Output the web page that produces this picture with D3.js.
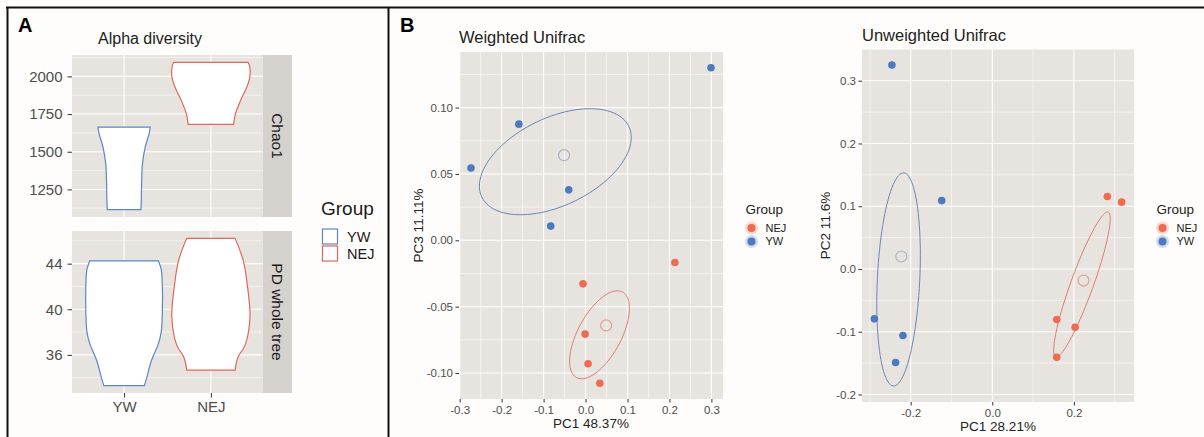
<!DOCTYPE html>
<html>
<head>
<meta charset="utf-8">
<style>
    body { margin: 0; background: #fefdfb; }
    svg { display: block; font-family: "Liberation Sans", Arial, sans-serif; }
    .axis .domain { display: none; }
    .axis line { stroke: #333; }
    .axis text { fill: #4d4d4d; }
    .grid-major { stroke: #fff; stroke-width: 1.1; }
    .grid-minor { stroke: #fff; stroke-width: 0.55; }
</style>
</head>
<body>
<svg id="fig" width="1204" height="437"></svg>
<script src="https://cdn.jsdelivr.net/npm/d3@7/dist/d3.min.js"></script>
<script>
// ---------- data ----------
var groups = ["YW", "NEJ"];

// violin outlines: [value, relative half width]
var chaoYW  = [[1116,0.43],[1178,0.44],[1310,0.45],[1421,0.47],[1531,0.54],[1620,0.64],[1664,0.67]];
var chaoNEJ = [[1682,0.58],[1753,0.63],[1841,0.76],[1929,0.92],[2000,1.0],[2070,0.99],[2093,0.95]];
var pdYW    = [[33.3,0.52],[34.0,0.58],[35.5,0.70],[36.9,0.87],[38.0,0.95],[40.0,0.98],[42.0,0.98],[43.5,0.95],[44.24,0.88]];
var pdNEJ   = [[34.66,0.62],[35.77,0.69],[36.9,0.88],[39.3,1.0],[41.9,0.94],[44.24,0.83],[46.22,0.62]];
var chaoTicks = [1250, 1500, 1750, 2000];
var pdTicks = [36, 40, 44];

// PCoA coordinates
var wYWx  = [0.299, -0.159, -0.273, -0.040, -0.083];
var wYWy  = [0.130, 0.0875, 0.0545, 0.038, 0.0107];
var wNEJx = [0.213, -0.006, -0.001, 0.006, 0.034];
var wNEJy = [-0.0167, -0.0328, -0.0707, -0.093, -0.1077];
var uYWx  = [-0.246, -0.124, -0.289, -0.219, -0.237];
var uYWy  = [0.325, 0.109, -0.0795, -0.106, -0.149];
var uNEJx = [0.282, 0.317, 0.158, 0.203, 0.158];
var uNEJy = [0.1156, 0.1065, -0.0806, -0.0929, -0.1408];

// ellipses: [centre x, centre y, var x, var y, cov xy]
var wEllYW  = [-0.072, 0.0592, 0.03276, 0.001596, 0.003312];
var wEllNEJ = [0.0333, -0.0712, 0.005078, 0.001098, 0.001416];
var uEllYW  = [-0.2297, -0.0166, 0.002849, 0.02884, 0.002034];
var uEllNEJ = [0.2197, -0.0247, 0.004805, 0.013374, 0.007268];

var wTicksX = [-0.3, -0.2, -0.1, 0, 0.1, 0.2, 0.3];
var wTicksY = [-0.10, -0.05, 0, 0.05, 0.10];
var uTicksX = [-0.2, 0, 0.2];
var uTicksY = [-0.2, -0.1, 0, 0.1, 0.2, 0.3];

var lineCol = {YW: "#5b86c6", NEJ: "#e2665b"};
var dotCol = {YW: "#4e79be", NEJ: "#ee6b4f"};
var ellCol = {YW: "#6a86b8", NEJ: "#e07b6d"};
var cenCol = {YW: "#a9b2c6", NEJ: "#dca197"};

var svg = d3.select("#fig");

function fixMinus(f) {
    return function(d) { return f(d).replace("\u2212", "-"); };
}

// expand extent by 5% like ggplot
function expand(ext) {
    var r = ext[1] - ext[0];
    return [ext[0] - r * 0.05, ext[1] + r * 0.05];
}

function minorOf(ticks, dom) {
    var step = ticks[1] - ticks[0], out = [];
    var first = ticks[0] - step / 2;
    for (var v = first; v <= dom[1] + 1e-9; v += step) {
        if (v >= dom[0]) out.push(v);
    }
    return out;
}

// ---------- frame ----------
svg.append("line").attr("x1", 6).attr("x2", 1204).attr("y1", 7.5).attr("y2", 7.5).attr("stroke", "#111").attr("stroke-width", 2);
svg.append("line").attr("x1", 7.5).attr("x2", 7.5).attr("y1", 7).attr("y2", 437).attr("stroke", "#111").attr("stroke-width", 2);
svg.append("line").attr("x1", 388.5).attr("x2", 388.5).attr("y1", 7).attr("y2", 437).attr("stroke", "#111").attr("stroke-width", 2);

svg.append("text").attr("x", 18).attr("y", 32).attr("font-size", 20).attr("font-weight", "bold").text("A");
svg.append("text").attr("x", 400).attr("y", 32).attr("font-size", 20).attr("font-weight", "bold").text("B");

// ---------- panel A : violins ----------
svg.append("text").attr("x", 98).attr("y", 44).attr("font-size", 16).attr("fill", "#222").text("Alpha diversity");

var xA = d3.scalePoint().domain(groups).range([72, 263]).padding(0.6);
var wA = d3.scaleLinear().domain([0, 1]).range([0, 0.45 * xA.step()]);

function violinPanel(top, bottom, rows, ticks, label, showX) {
    var all = rows.YW.concat(rows.NEJ).map(function(d) { return d[0]; });
    var dom = expand(d3.extent(all));
    var y = d3.scaleLinear().domain(dom).range([bottom, top]);
    var g = svg.append("g");

    g.append("rect").attr("x", 72).attr("y", top).attr("width", 191).attr("height", bottom - top).attr("fill", "#e7e4e0");
    g.selectAll(".mn").data(minorOf(ticks, dom)).enter().append("line")
        .attr("class", "grid-minor").attr("x1", 72).attr("x2", 263)
        .attr("y1", function(d) { return y(d); }).attr("y2", function(d) { return y(d); });
    g.selectAll(".mj").data(ticks).enter().append("line")
        .attr("class", "grid-major").attr("x1", 72).attr("x2", 263)
        .attr("y1", function(d) { return y(d); }).attr("y2", function(d) { return y(d); });
    g.selectAll(".vx").data(groups).enter().append("line")
        .attr("class", "grid-major").attr("y1", top).attr("y2", bottom)
        .attr("x1", function(d) { return xA(d); }).attr("x2", function(d) { return xA(d); });

    groups.forEach(function(grp) {
        var cx = xA(grp);
        var area = d3.area()
            .y(function(d) { return y(d[0]); })
            .x0(function(d) { return cx - wA(d[1]); })
            .x1(function(d) { return cx + wA(d[1]); })
            .curve(d3.curveCatmullRom.alpha(0.5));
        g.append("path").datum(rows[grp]).attr("d", area)
            .attr("fill", "#fff").attr("stroke", lineCol[grp]).attr("stroke-width", 1.2);
    });

    // strip
    g.append("rect").attr("x", 263).attr("y", top).attr("width", 29).attr("height", bottom - top).attr("fill", "#d5d1cc");
    g.append("text").attr("transform", "translate(277.5," + ((top + bottom) / 2) + ") rotate(90)")
        .attr("text-anchor", "middle").attr("dy", "0.35em").attr("font-size", 15.5).attr("fill", "#1a1a1a").text(label);

    var ay = g.append("g").attr("class", "axis").attr("transform", "translate(72,0)")
        .call(d3.axisLeft(y).tickValues(ticks).tickSize(4.5).tickPadding(5).tickFormat(d3.format("d")));
    ay.selectAll("text").attr("font-size", 15);

    if (showX) {
        var ax = g.append("g").attr("class", "axis").attr("transform", "translate(0," + bottom + ")")
            .call(d3.axisBottom(xA).tickSize(4.5).tickPadding(4));
        ax.selectAll("text").attr("font-size", 15);
    }
}

violinPanel(55, 217, {YW: chaoYW, NEJ: chaoNEJ}, chaoTicks, "Chao1", false);
violinPanel(231, 393, {YW: pdYW, NEJ: pdNEJ}, pdTicks, "PD whole tree", true);

// legend A
svg.append("text").attr("x", 321).attr("y", 215).attr("font-size", 19).attr("fill", "#1a1a1a").text("Group");
groups.forEach(function(grp, i) {
    var yy = 228 + i * 17;
    svg.append("rect").attr("x", 322.5).attr("y", yy + 1).attr("width", 15).attr("height", 15)
        .attr("fill", "#fff").attr("stroke", lineCol[grp]).attr("stroke-width", 1.2);
    svg.append("text").attr("x", 347).attr("y", yy + 8.5).attr("dy", "0.35em")
        .attr("font-size", 14.5).attr("fill", "#1a1a1a").text(grp);
});

// ---------- panel B : PCoA ----------
function ellipsePts(e) {
    var sa = Math.sqrt(e[2]);
    var k = e[4] / sa;
    var m = Math.sqrt(e[3] - k * k);
    return d3.range(0, 101).map(function(i) {
        var t = i / 100 * 2 * Math.PI;
        return [e[0] + sa * Math.cos(t), e[1] + k * Math.cos(t) + m * Math.sin(t)];
    });
}

function pcoaPanel(o) {
    var sets = {
        YW: o.yx.map(function(v, i) { return [v, o.yy[i]]; }),
        NEJ: o.nx.map(function(v, i) { return [v, o.ny[i]]; })
    };
    var ells = {YW: o.ellYW, NEJ: o.ellNEJ};
    var allX = o.yx.concat(o.nx), allY = o.yy.concat(o.ny);
    groups.forEach(function(grp) {
        var e = ells[grp];
        allX.push(e[0] - Math.sqrt(e[2]), e[0] + Math.sqrt(e[2]));
        allY.push(e[1] - Math.sqrt(e[3]), e[1] + Math.sqrt(e[3]));
    });
    var dx = expand(d3.extent(allX)), dy = expand(d3.extent(allY));
    var x = d3.scaleLinear().domain(dx).range([o.left, o.right]);
    var y = d3.scaleLinear().domain(dy).range([o.bottom, o.top]);
    var g = svg.append("g");

    g.append("text").attr("x", o.left).attr("y", o.titleY).attr("font-size", 16.5).attr("fill", "#222").text(o.title);
    g.append("rect").attr("x", o.left).attr("y", o.top).attr("width", o.right - o.left).attr("height", o.bottom - o.top).attr("fill", "#e7e4e0");

    g.selectAll(".mnx").data(minorOf(o.ticksX, dx)).enter().append("line").attr("class", "grid-minor")
        .attr("x1", function(d) { return x(d); }).attr("x2", function(d) { return x(d); }).attr("y1", o.top).attr("y2", o.bottom);
    g.selectAll(".mny").data(minorOf(o.ticksY, dy)).enter().append("line").attr("class", "grid-minor")
        .attr("y1", function(d) { return y(d); }).attr("y2", function(d) { return y(d); }).attr("x1", o.left).attr("x2", o.right);
    g.selectAll(".mjx").data(o.ticksX).enter().append("line").attr("class", "grid-major")
        .attr("x1", function(d) { return x(d); }).attr("x2", function(d) { return x(d); }).attr("y1", o.top).attr("y2", o.bottom);
    g.selectAll(".mjy").data(o.ticksY).enter().append("line").attr("class", "grid-major")
        .attr("y1", function(d) { return y(d); }).attr("y2", function(d) { return y(d); }).attr("x1", o.left).attr("x2", o.right);

    var line = d3.line().x(function(d) { return x(d[0]); }).y(function(d) { return y(d[1]); }).curve(d3.curveLinearClosed);
    groups.forEach(function(grp) {
        g.append("path").attr("d", line(ellipsePts(ells[grp])))
            .attr("fill", "none").attr("stroke", ellCol[grp]).attr("stroke-width", 1);
        g.selectAll(".pt" + grp).data(sets[grp]).enter().append("circle")
            .attr("cx", function(d) { return x(d[0]); }).attr("cy", function(d) { return y(d[1]); })
            .attr("r", 3.8).attr("fill", dotCol[grp]);
        g.append("circle")
            .attr("cx", x(d3.mean(sets[grp], function(d) { return d[0]; })))
            .attr("cy", y(d3.mean(sets[grp], function(d) { return d[1]; })))
            .attr("r", 5.5).attr("fill", "none").attr("stroke", cenCol[grp]).attr("stroke-width", 1.2);
    });

    var ax = g.append("g").attr("class", "axis").attr("transform", "translate(0," + o.bottom + ")")
        .call(d3.axisBottom(x).tickValues(o.ticksX).tickSize(3.5).tickPadding(3).tickFormat(fixMinus(d3.format(".1f"))));
    ax.selectAll("text").attr("font-size", 11.5);
    var ay = g.append("g").attr("class", "axis").attr("transform", "translate(" + o.left + ",0)")
        .call(d3.axisLeft(y).tickValues(o.ticksY).tickSize(3.5).tickPadding(2.5).tickFormat(fixMinus(d3.format(o.fmtY))));
    ay.selectAll("text").attr("font-size", 11.5);

    g.append("text").attr("x", (o.left + o.right) / 2).attr("y", o.xTitleY).attr("text-anchor", "middle")
        .attr("font-size", 13.5).attr("fill", "#222").text(o.xTitle);
    g.append("text").attr("transform", "translate(" + o.yTitleX + "," + ((o.top + o.bottom) / 2) + ") rotate(-90)")
        .attr("text-anchor", "middle").attr("font-size", 13.5).attr("fill", "#222").text(o.yTitle);

    // legend
    g.append("text").attr("x", o.legX).attr("y", 214).attr("font-size", 13.5).attr("fill", "#222").text("Group");
    ["NEJ", "YW"].forEach(function(grp, i) {
        var cy = 228 + i * 13.5;
        g.append("circle").attr("cx", o.legX + 6).attr("cy", cy).attr("r", 6.5).attr("fill", dotCol[grp]).attr("opacity", 0.25);
        g.append("circle").attr("cx", o.legX + 6).attr("cy", cy).attr("r", 4).attr("fill", dotCol[grp]);
        g.append("text").attr("x", o.legX + 20).attr("y", cy).attr("dy", "0.35em").attr("font-size", 11).attr("fill", "#222").text(grp);
    });
}

pcoaPanel({
    title: "Weighted Unifrac", titleY: 43,
    left: 459, right: 723, top: 52, bottom: 399,
    yx: wYWx, yy: wYWy, nx: wNEJx, ny: wNEJy, ellYW: wEllYW, ellNEJ: wEllNEJ,
    ticksX: wTicksX, ticksY: wTicksY, fmtY: ".2f",
    xTitle: "PC1 48.37%", xTitleY: 428, yTitle: "PC3 11.11%", yTitleX: 423,
    legX: 745.5
});

pcoaPanel({
    title: "Unweighted Unifrac", titleY: 40.5,
    left: 862, right: 1134, top: 49, bottom: 402,
    yx: uYWx, yy: uYWy, nx: uNEJx, ny: uNEJy, ellYW: uEllYW, ellNEJ: uEllNEJ,
    ticksX: uTicksX, ticksY: uTicksY, fmtY: ".1f",
    xTitle: "PC1 28.21%", xTitleY: 431, yTitle: "PC2 11.6%", yTitleX: 830,
    legX: 1156.5
});
</script>
</body>
</html>
